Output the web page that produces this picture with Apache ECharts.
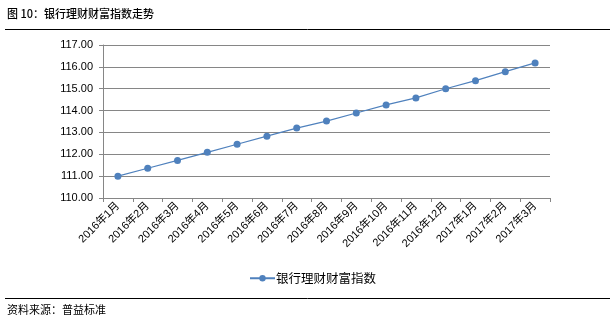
<!DOCTYPE html>
<html>
<head>
<meta charset="utf-8">
<script src="https://cdn.jsdelivr.net/npm/echarts@6/dist/echarts.min.js"></script>
<style>
  html, body { margin: 0; padding: 0; background: #fff; }
  #chart { width: 615px; height: 325px; }
</style>
</head>
<body>
<div id="chart"></div>
<script>
// Monthly bank wealth-management index
const months = ['2016年1月', '2016年2月', '2016年3月', '2016年4月', '2016年5月', '2016年6月', '2016年7月', '2016年8月',
  '2016年9月', '2016年10月', '2016年11月', '2016年12月', '2017年1月', '2017年2月', '2017年3月'];
const indexValues = [111.00, 111.36, 111.72, 112.09, 112.46, 112.83, 113.20, 113.52,
  113.89, 114.26, 114.58, 115.00, 115.37, 115.78, 116.18];
const seriesName = '银行理财财富指数';
const titleText = '图 10：银行理财财富指数走势';
const sourceText = '资料来源：普益标准';

const latin = '"Liberation Sans", Arial, "Noto Sans CJK SC", sans-serif';
const cjk = '"Noto Sans CJK SC", "Liberation Sans", sans-serif';

const chart = echarts.init(document.getElementById('chart'), null, { renderer: 'canvas' });
chart.setOption({
  animation: false,
  backgroundColor: '#fff',
  grid: { left: 103, right: 65, top: 45, bottom: 127, containLabel: false },
  legend: {
    data: [seriesName],
    left: 244, top: 267,
    itemWidth: 25, itemHeight: 8, itemGap: 4,
    textStyle: { fontFamily: cjk, fontSize: 12.5, color: '#000', padding: [0, 0, 0, -4] }
  },
  xAxis: {
    type: 'category',
    data: months,
    boundaryGap: true,
    axisLine: { lineStyle: { color: '#868686', width: 1 } },
    axisTick: { show: true, alignWithLabel: false, length: 4, lineStyle: { color: '#868686' } },
    axisLabel: {
      interval: 0, rotate: 45, margin: 6,
      fontFamily: latin, fontSize: 11, color: '#000'
    }
  },
  yAxis: {
    type: 'value',
    min: 110, max: 117, interval: 1,
    axisLine: { show: true, lineStyle: { color: '#868686', width: 1 } },
    axisTick: { show: true, inside: false, length: 4, lineStyle: { color: '#868686' } },
    splitLine: { show: true, lineStyle: { color: '#868686', width: 1 } },
    axisLabel: {
      margin: 10,
      fontFamily: latin, fontSize: 11, color: '#000',
      formatter: v => v.toFixed(2)
    }
  },
  series: [{
    name: seriesName,
    type: 'line',
    data: indexValues,
    symbol: 'circle',
    symbolSize: 7,
    itemStyle: { color: '#4F81BD' },
    lineStyle: { color: '#4F81BD', width: 1.2 }
  }],
  graphic: [
    { type: 'text', left: 7, top: 8,
      style: { text: titleText, font: '500 11px ' + cjk, fill: '#000' } },
    { type: 'line', shape: { x1: 5, y1: 29.5, x2: 610, y2: 29.5 },
      style: { stroke: '#000', lineWidth: 1 } },
    { type: 'line', shape: { x1: 5, y1: 298.5, x2: 610, y2: 298.5 },
      style: { stroke: '#000', lineWidth: 1 } },
    { type: 'text', left: 7, top: 304,
      style: { text: sourceText, font: '11px ' + cjk, fill: '#000' } }
  ]
});
</script>
</body>
</html>
